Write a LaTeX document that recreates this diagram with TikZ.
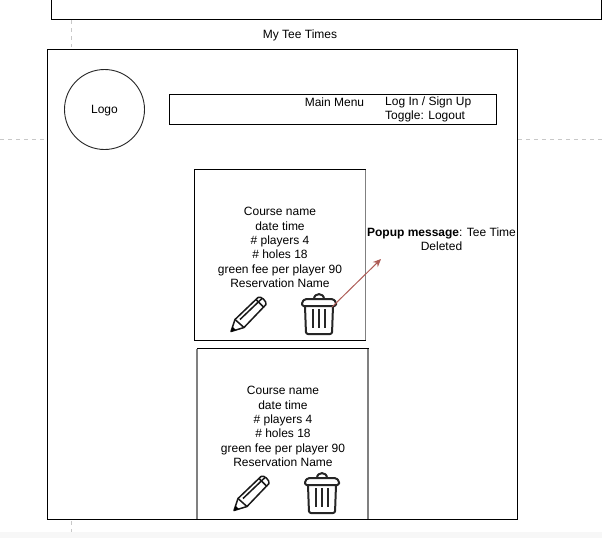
\documentclass[tikz,border=0pt]{standalone}
\usepackage{fontspec}
\setmainfont{Liberation Sans}
\usetikzlibrary{arrows.meta}
\definecolor{guide}{RGB}{200,200,200}
\definecolor{arrowred}{RGB}{174,92,86}
\tikzset{
  x=1pt,y=-1pt,
  box/.style={draw=black,line width=1pt,fill=white,inner sep=0pt,outer sep=0pt,anchor=north west},
  label/.style={font=\fontsize{12}{14.3}\selectfont,align=center,inner sep=0pt},
  guideline/.style={draw=guide,line width=0.8pt,dash pattern=on 4pt off 4pt},
  pencil/.pic={
    \begin{scope}[line width=1.5pt,line join=round,draw=black!90]
      \draw (0,35) -- (4,23) -- (27,1) .. controls (30,-1) and (36,5) .. (35,8) -- (13,31) -- cycle;
      \draw (4,23) -- (13,31);
      \draw (9,23) -- (31,2);
      \draw (25,3) -- (33,11);
      \fill (0,35) -- (1.5,30) -- (5,33.5) -- cycle;
    \end{scope}
  },
  trashcan/.pic={
    \begin{scope}[line width=2pt,line join=round,draw=black!85]
      \draw[rounded corners=1.5pt] (1,8) -- (1,12) -- (35,12) -- (35,8) -- (32,5) -- (4,5) -- cycle;
      \draw (13,5) .. controls (13,-1.5) and (23,-1.5) .. (23,5);
      \draw[rounded corners=2pt] (4,12) -- (5,40) -- (31,40) -- (32,12);
      \draw[line width=2.4pt] (12,15) -- (12,34) (18,15) -- (18,34) (24,15) -- (24,34);
    \end{scope}
  }
}
\begin{document}
\begin{tikzpicture}
\useasboundingbox (0,0) rectangle (602,538);
\fill[white] (0,0) rectangle (602,538);
% page guides
\draw[guideline] (71,20) -- (71,47);
\draw[guideline] (0,139.5) -- (47,139.5);
\draw[guideline] (518,139.5) -- (602,139.5);
\draw[guideline] (71,521) -- (71,532);
\fill[black!3] (0,532) rectangle (602,538);
% previous screen
\draw[line width=1pt] (51.5,0) -- (51.5,19.5) -- (601.5,19.5) -- (601.5,0);
\node[label] (title) at (300,35) {My Tee Times};
% frame
\node[box,minimum width=470pt,minimum height=470pt] (frame) at (47.5,49.5) {};
% logo
\node[draw=black!85,line width=0.9pt,circle,minimum size=80pt,inner sep=0pt,outer sep=0pt] (logo) at (104.5,109.5) {};
\node[label] (logotext) at (104.5,110.5) {Logo};
% menu
\node[box,minimum width=327pt,minimum height=30pt] (menu) at (169.5,94.5) {};
\node[label] (mainmenu) at (334.5,102.5) {Main Menu};
\node[label,anchor=west,align=left] (login) at (385,109.5) {Log In / Sign Up\\Toggle: Logout};
% cards
\node[box,minimum width=171pt,minimum height=171pt] (card1) at (194.5,169.5) {};
\node[label] (text1) at (280,247.5) {Course name\\date time\\\# players 4\\\# holes 18\\green fee per player 90\\Reservation Name};
\draw[line width=1.2pt,draw=gray] (365.5,169.5) -- (365.5,340);
\pic at (231,296.5) {pencil};
\pic (trash1) at (301,294) {trashcan};
\coordinate (trash1end) at (332,307);
\coordinate (popanchor) at (381,259);
\draw[arrowred,line width=1pt,-{Stealth[length=8pt,width=7pt]}] (trash1end) -- (popanchor);
\node[label] (popup) at (441.5,239) {\textbf{Popup message}: Tee Time\\Deleted};
\node[box,minimum width=171pt,minimum height=171pt] (card2) at (197,348.5) {};
\draw[line width=1.2pt,draw=gray] (197,349) -- (197,519) (368,349) -- (368,519);
\node[label] (text2) at (283,426.5) {Course name\\date time\\\# players 4\\\# holes 18\\green fee per player 90\\Reservation Name};
\pic at (234,475.5) {pencil};
\pic at (304,473) {trashcan};
\draw[line width=1pt] (47.5,519.5) -- (517.5,519.5);
\end{tikzpicture}
\end{document}
